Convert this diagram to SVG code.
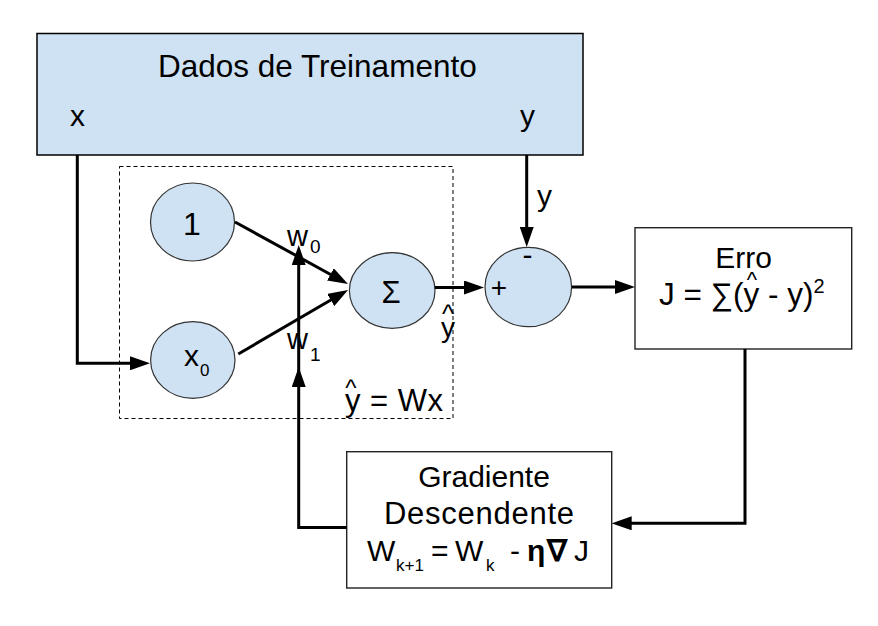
<svg xmlns="http://www.w3.org/2000/svg" width="878" height="626" viewBox="0 0 878 626">
<style>
text{font-family:"Liberation Sans",Arial,sans-serif;fill:#000}
.node{fill:#cfe2f3;stroke:#333;stroke-width:1.2}
.box{fill:#fff;stroke:#222;stroke-width:1.4}
.conn{fill:none;stroke:#000;stroke-width:3}
.t30{font-size:30px}
.hat{text-anchor:middle}
.mid{text-anchor:middle}
</style>
<defs>
<marker id="ah" markerUnits="userSpaceOnUse" markerWidth="20" markerHeight="14" refX="10" refY="7" orient="auto">
<path d="M0,0 L20,7 L0,14 z" fill="#000"/>
</marker>
</defs>
<rect width="878" height="626" fill="#fff"/>

<g id="dados">
<rect x="37" y="33.5" width="546" height="121.5" fill="#cfe2f3" stroke="#000" stroke-width="1.5"/>
<text x="158" y="77" font-size="31.5">Dados de Treinamento</text>
<text x="70" y="126" class="t30">x</text>
<text x="520" y="126" class="t30">y</text>
</g>

<g id="modelo">
<rect x="119.5" y="166.5" width="333.5" height="252" fill="none" stroke="#000" stroke-width="1" stroke-dasharray="4 3"/>
<text x="351" y="396" font-size="24" class="hat">^</text>
<text x="345" y="411" font-size="31" textLength="98">y = Wx</text>
</g>

<g id="no-1">
<ellipse cx="192.5" cy="222" rx="42" ry="39" class="node"/>
<text x="192" y="235" font-size="32" class="mid">1</text>
</g>

<g id="no-x0">
<ellipse cx="192.8" cy="360" rx="42.2" ry="38.3" class="node"/>
<text x="184" y="366" font-size="30">x</text>
<text x="200" y="376" font-size="17">0</text>
</g>

<g id="no-soma">
<ellipse cx="392.2" cy="290.5" rx="42.8" ry="37.8" class="node"/>
<text x="391" y="303" font-size="31" class="mid">Σ</text>
</g>

<g id="no-diferenca">
<ellipse cx="528.3" cy="287" rx="43.3" ry="39.7" class="node"/>
<text x="499" y="297" font-size="28" class="mid">+</text>
<text x="527.5" y="265" font-size="30" class="mid">-</text>
</g>

<g id="erro">
<rect x="635" y="227.7" width="216.7" height="121.3" class="box"/>
<text x="743.5" y="267.7" class="t30 mid">Erro</text>
<text x="659" y="305" font-size="31.5">J = ∑(y - y)<tspan font-size="20" dy="-12">2</tspan></text>
<text x="752" y="287" font-size="22" class="hat">^</text>
</g>

<g id="gradiente">
<rect x="346.7" y="451.7" width="265" height="136.3" class="box"/>
<text x="484" y="486.7" font-size="30" class="mid">Gradiente</text>
<text x="479" y="523.7" font-size="31" class="mid" textLength="190">Descendente</text>
<text y="560.7" font-size="30"><tspan x="367">W</tspan><tspan x="396" y="570.5" font-size="17">k+1</tspan><tspan x="431" y="560.7">=</tspan><tspan x="455">W</tspan><tspan x="486" y="570.5" font-size="17">k</tspan><tspan x="510" y="560.7">-</tspan><tspan x="527" font-weight="bold">η</tspan><tspan x="547" font-weight="bold">∇</tspan><tspan x="574">J</tspan></text>
</g>

<g id="conectores">
<path class="conn" d="M77.3,155 V363.3 H140" marker-end="url(#ah)"/>
<path class="conn" d="M526.7,155 V237" marker-end="url(#ah)"/>
<path class="conn" d="M235,222 L339.2,279.2" marker-end="url(#ah)"/>
<path class="conn" d="M238.3,354 L339.4,295" marker-end="url(#ah)"/>
<path class="conn" d="M435,287.5 H474" marker-end="url(#ah)"/>
<path class="conn" d="M571.7,287 H625" marker-end="url(#ah)"/>
<path class="conn" d="M745,349 V523.3 H621.7" marker-end="url(#ah)"/>
<path class="conn" d="M346.7,527.5 H298.7 V377" marker-end="url(#ah)"/>
<path class="conn" d="M298.7,380 V255" marker-end="url(#ah)"/>
</g>

<g id="rotulos">
<text x="537" y="206" class="t30">y</text>
<text x="287" y="246" font-size="29">w</text>
<text x="310" y="253" font-size="19">0</text>
<text x="287" y="349" font-size="29">w</text>
<text x="310" y="361" font-size="19">1</text>
<text x="448" y="323" font-size="26" class="hat">^</text>
<text x="441" y="337" font-size="28">y</text>
</g>
</svg>
